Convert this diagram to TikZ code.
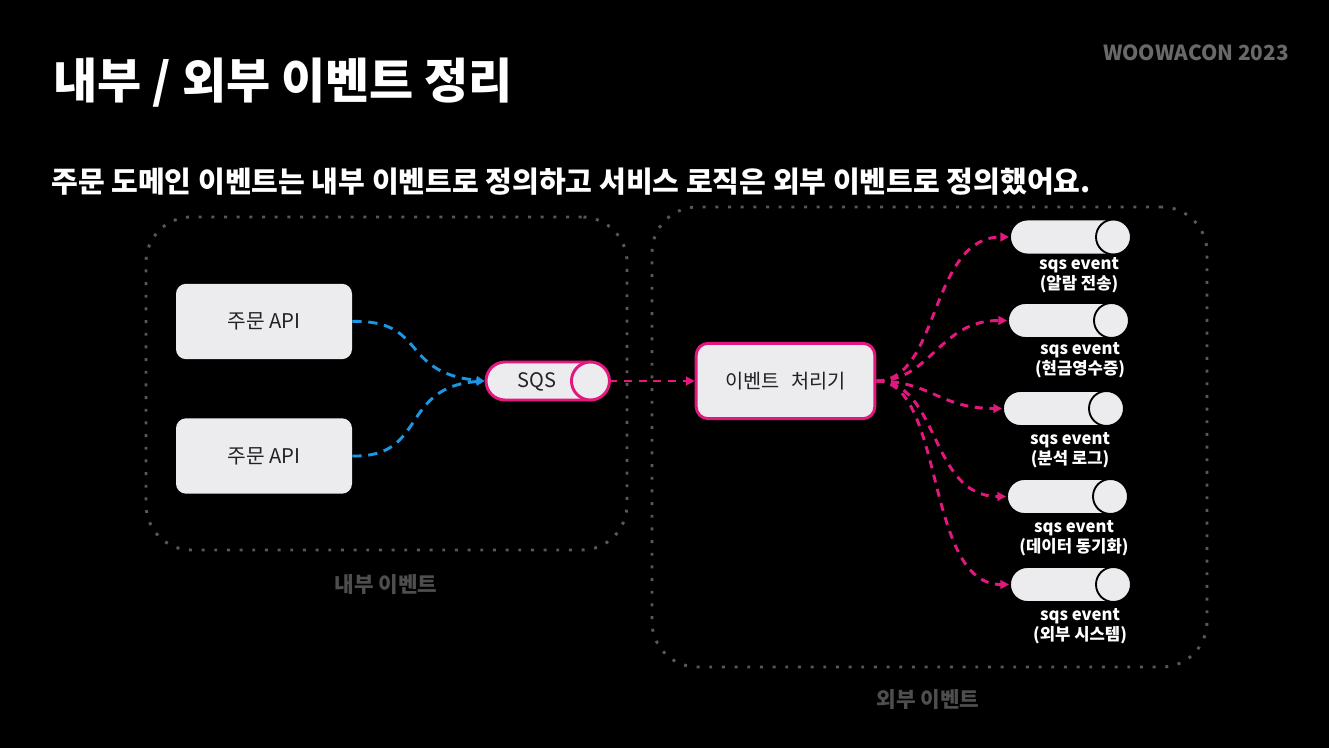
\documentclass[tikz,border=0pt]{standalone}
\usepackage{fontspec}
\setmainfont{Noto Sans CJK KR}
\usetikzlibrary{arrows.meta}
\definecolor{pinkc}{RGB}{228,23,126}
\definecolor{bluec}{RGB}{27,150,228}
\definecolor{boxfill}{RGB}{236,236,238}
\definecolor{dotc}{RGB}{88,88,88}
\definecolor{labc}{RGB}{78,78,78}
\definecolor{logoc}{RGB}{105,105,105}
\definecolor{inkc}{RGB}{34,34,34}
\begin{document}
\begin{tikzpicture}[x=0.75pt,y=-0.75pt,
  frame/.style={draw=dotc, line width=2.2pt, line cap=butt, dash pattern=on 2.2pt off 7.3pt, rounded corners=34pt, inner sep=0pt},
  apibox/.style={fill=boxfill, rounded corners=7.5pt, minimum width=132pt, minimum height=56.5pt, inner sep=0pt, font=\fontsize{15.2}{18}\selectfont, text=inkc},
  procbox/.style={draw=pinkc, line width=2.2pt, fill=boxfill, rounded corners=9pt, minimum width=134pt, minimum height=56.5pt, inner sep=0pt, font=\fontsize{14.8}{17}\selectfont, text=inkc},
  sqspill/.style={draw=pinkc, line width=2.2pt, fill=boxfill, rounded corners=14.25pt, minimum width=91.5pt, minimum height=28.5pt, inner sep=0pt},
  evpill/.style={draw=black, line width=1.4pt, fill=boxfill, rounded corners=13.1pt, minimum width=90pt, minimum height=26.25pt, inner sep=0pt},
  evlab/.style={align=center, text=white, font=\bfseries\fontsize{12.5}{15}\selectfont, inner sep=0pt},
  zonelab/.style={text=labc, font=\bfseries\fontsize{16}{18}\selectfont, inner sep=0pt},
  bluearrow/.style={draw=bluec, line width=2.2pt, dash pattern=on 7pt off 5pt, -{Triangle[length=6pt,width=6pt]}},
  pinkarrow/.style={draw=pinkc, line width=2.2pt, dash pattern=on 6pt off 5pt, -{Triangle[length=6.5pt,width=6.5pt]}}
]
\fill[black] (0,0) rectangle (1329,748);
\useasboundingbox (0,0) rectangle (1329,748);

% titles
\node[anchor=base west, inner sep=0pt, text=white, font=\bfseries\fontsize{36}{40}\selectfont] (title) at (53,99) {내부 / 외부 이벤트 정리};
\node[anchor=base west, inner sep=0pt, text=white, font=\bfseries\fontsize{21.8}{24}\selectfont] (subtitle) at (51,193) {주문 도메인 이벤트는 내부 이벤트로 정의하고 서비스 로직은 외부 이벤트로 정의했어요.};
\node[inner sep=0pt, text=logoc, font=\bfseries\fontsize{15.6}{18}\selectfont] (logo) at (1196,53) {WOOWACON 2023};

% zones
\node[frame, minimum width=360.75pt, minimum height=249.75pt] (inner) at (386.5,383.5) {};
\node[frame, minimum width=416.25pt, minimum height=345pt] (outer) at (929.5,437) {};
\node[zonelab] (innerlab) at (386,585) {내부 이벤트};
\node[zonelab] (outerlab) at (928,700) {외부 이벤트};

% boxes
\node[apibox] (api1) at (264,321.5) {주문 API};
\node[apibox] (api2) at (264,456) {주문 API};
\node[sqspill] (sqs) at (547,381) {};
\draw[draw=pinkc, line width=2.2pt, fill=boxfill] ([xshift=-14.25pt]sqs.east) circle[radius=14.25pt];
\node[inner sep=0pt, text=inkc, font=\fontsize{15}{18}\selectfont] (sqslab) at (537,382) {SQS};
\node[procbox] (proc) at (785.5,381) {이벤트\hspace{0.6em}처리기};

% event queues
\foreach \n/\cx/\cy in {e1/1070/237, e2/1068/320.5, e3/1063/408.5, e4/1067/496.5, e5/1070/584.5}{
  \node[evpill] (\n) at (\cx,\cy) {};
  \draw[draw=black, line width=1.4pt, fill=boxfill] ([xshift=-13.1pt]\n.east) circle[radius=13.1pt];
}
\node[evlab] (l1) at (1079,275) {sqs event\\(알람 전송)};
\node[evlab] (l2) at (1080,360.5) {sqs event\\(현금영수증)};
\node[evlab] (l3) at (1070,450) {sqs event\\(분석 로그)};
\node[evlab] (l4) at (1074,538) {sqs event\\(데이터 동기화)};
\node[evlab] (l5) at (1080,626) {sqs event\\(외부 시스템)};

% connectors
\draw[bluearrow] (api1.east) .. controls +(75,-2) and +(-85,-8) .. (sqs.west);
\draw[bluearrow] (api2.east) .. controls +(75,2) and +(-85,6) .. (sqs.west);
\draw[pinkarrow] (sqs.east) -- (proc.west);
\draw[pinkarrow] (proc.east) .. controls +(64,0) and +(-80,0) .. (e1.west);
\draw[pinkarrow] (proc.east) .. controls +(55,0) and +(-68,0) .. (e2.west);
\draw[pinkarrow] (proc.east) .. controls +(55,0) and +(-63,0) .. (e3.west);
\draw[pinkarrow] (proc.east) .. controls +(64,0) and +(-77,0) .. (e4.west);
\draw[pinkarrow] (proc.east) .. controls +(69,0) and +(-85,0) .. (e5.west);
\end{tikzpicture}
\end{document}
